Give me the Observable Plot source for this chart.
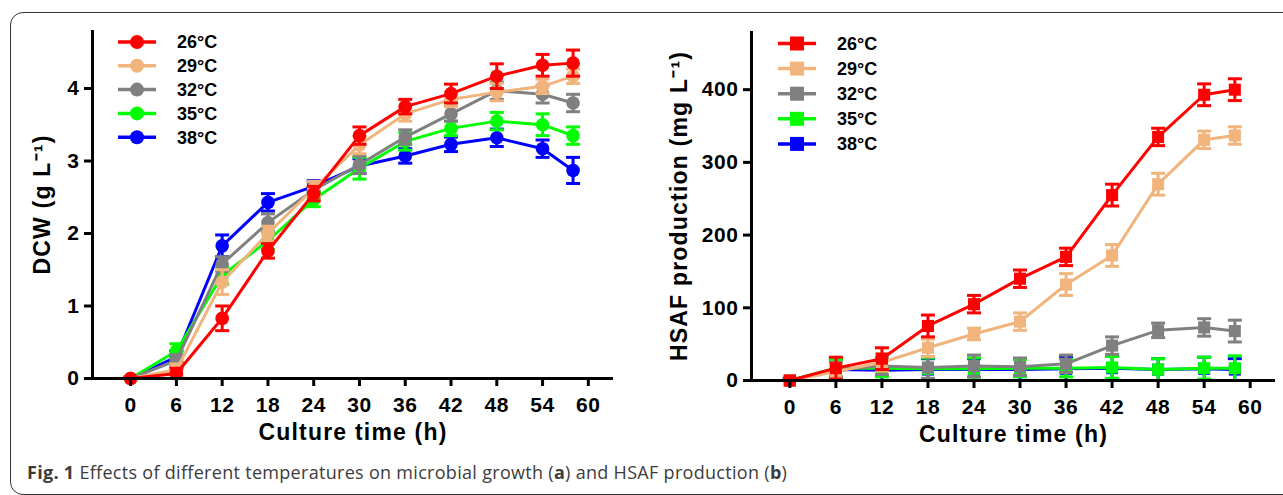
<!DOCTYPE html>
<html>
<head>
<meta charset="utf-8">
<script src="https://cdn.jsdelivr.net/npm/d3@7"></script>
<script src="https://cdn.jsdelivr.net/npm/@observablehq/plot@0.6"></script>
<style>
  html, body { margin: 0; padding: 0; background: #fff; }
  body { width: 1283px; height: 495px; position: relative; overflow: hidden; }
  #frame { position: absolute; left: 10px; top: 12px; width: 1320px; height: 483px;
           border: 1.6px solid #333; border-radius: 13px; box-sizing: border-box; }
  #left { position: absolute; left: 0; top: 0; }
  #right { position: absolute; left: 640px; top: 0; }
  #legend { position: absolute; left: 0; top: 0; pointer-events: none; }
  #caption { position: absolute; left: 27px; top: 463px; font-family: "Open Sans", sans-serif;
             font-size: 18px; letter-spacing: 0.3px; color: #3c3c3c; white-space: nowrap; line-height: 1; }
</style>
</head>
<body>
<div id="frame"></div>
<div id="left"></div>
<div id="right"></div>
<svg id="legend" width="1283" height="200"></svg>
<div id="caption"><b>Fig. 1</b> Effects of different temperatures on microbial growth (<b>a</b>) and HSAF production (<b>b</b>)</div>
<script>
// ---------- data ----------
const times = [0, 6, 12, 18, 24, 30, 36, 42, 48, 54, 58];
const xTicks = [0, 6, 12, 18, 24, 30, 36, 42, 48, 54, 60];
const temps = ["26°C", "29°C", "32°C", "35°C", "38°C"];
const colors = ["#FF0000", "#F0B47C", "#808080", "#00FF00", "#0000FF"];

// DCW (g L-1)
const dcw26 = [0, 0.07, 0.83, 1.76, 2.55, 3.35, 3.75, 3.93, 4.17, 4.32, 4.35];
const dcw29 = [0, 0.12, 1.33, 2.00, 2.62, 3.22, 3.65, 3.85, 3.95, 4.03, 4.17];
const dcw32 = [0, 0.25, 1.58, 2.15, 2.60, 2.95, 3.33, 3.65, 3.97, 3.92, 3.80];
const dcw35 = [0, 0.38, 1.42, 1.90, 2.47, 2.90, 3.27, 3.45, 3.55, 3.50, 3.35];
const dcw38 = [0, 0.30, 1.83, 2.43, 2.65, 2.93, 3.07, 3.23, 3.32, 3.17, 2.87];
const dcw26Err = [0.02, 0.07, 0.17, 0.10, 0.10, 0.12, 0.10, 0.13, 0.17, 0.15, 0.18];
const dcw29Err = [0.02, 0.08, 0.17, 0.10, 0.10, 0.12, 0.10, 0.10, 0.12, 0.10, 0.10];
const dcw32Err = [0.02, 0.08, 0.10, 0.12, 0.10, 0.12, 0.10, 0.10, 0.12, 0.12, 0.12];
const dcw35Err = [0.02, 0.10, 0.12, 0.12, 0.10, 0.15, 0.12, 0.10, 0.12, 0.15, 0.12];
const dcw38Err = [0.02, 0.08, 0.15, 0.12, 0.08, 0.10, 0.10, 0.10, 0.12, 0.12, 0.18];

// HSAF production (mg L-1)
const hsaf26 = [0, 17, 30, 75, 105, 140, 170, 255, 335, 393, 400];
const hsaf29 = [0, 12, 25, 45, 64, 81, 132, 172, 270, 331, 337];
const hsaf32 = [0, 15, 20, 18, 20, 19, 23, 48, 69, 73, 68];
const hsaf35 = [0, 17, 17, 16, 16, 17, 17, 18, 15, 17, 17];
const hsaf38 = [0, 15, 14, 15, 15, 15, 16, 17, 15, 16, 15];
const hsaf26Err = [3, 15, 15, 15, 12, 12, 12, 15, 12, 15, 15];
const hsaf29Err = [3, 10, 12, 12, 8, 12, 15, 15, 15, 12, 12];
const hsaf32Err = [3, 10, 12, 15, 15, 12, 12, 12, 10, 12, 15];
const hsaf35Err = [3, 12, 12, 15, 15, 12, 12, 15, 15, 15, 17];
const hsaf38Err = [3, 15, 14, 15, 15, 15, 16, 17, 15, 16, 15];

const dcwSeries = [dcw26, dcw29, dcw32, dcw35, dcw38];
const dcwErrs = [dcw26Err, dcw29Err, dcw32Err, dcw35Err, dcw38Err];
const hsafSeries = [hsaf26, hsaf29, hsaf32, hsaf35, hsaf38];
const hsafErrs = [hsaf26Err, hsaf29Err, hsaf32Err, hsaf35Err, hsaf38Err];

const xDomain = [-5, 63.3];
const FONT = "'Liberation Sans', Arial, Helvetica, sans-serif";

function capSymbol(half) {
  return { draw(context) { context.moveTo(-half, 0); context.lineTo(half, 0); } };
}

function panel({series, errs, yDomain, yTicks, yLabel, symbol, r, width, height, margin, yLabelDx}) {
  const rows = [];
  temps.forEach((name, i) => times.forEach((t, j) =>
    rows.push({series: name, t, v: series[i][j], e: errs[i][j]})));
  const marks = [];
  // draw last series first so 26°C ends on top
  for (let i = temps.length - 1; i >= 0; i--) {
    const d = rows.filter(r => r.series === temps[i]);
    marks.push(
      Plot.line(d, {x: "t", y: "v", stroke: "series", strokeWidth: 3}),
      Plot.ruleX(d, {x: "t", y1: r => Math.max(0, r.v - r.e), y2: r => r.v + r.e, stroke: "series", strokeWidth: 3}),
      Plot.dot(d, {x: "t", y: r => r.v + r.e, symbol: capSymbol(7), stroke: "series", strokeWidth: 3, fill: "none"}),
      Plot.dot(d, {x: "t", y: r => Math.max(0, r.v - r.e), symbol: capSymbol(7), stroke: "series", strokeWidth: 3, fill: "none"}),
      Plot.dot(d, {x: "t", y: "v", symbol, r, fill: "series", stroke: "none"})
    );
  }
  return Plot.plot({
    width, height,
    marginLeft: margin[0], marginRight: margin[1], marginTop: margin[2], marginBottom: margin[3],
    style: {fontFamily: FONT, background: "transparent", overflow: "visible", color: "#000"},
    x: {domain: xDomain},
    y: {domain: yDomain},
    color: {domain: temps, range: colors},
    marks: [
      ...marks,
      Plot.ruleY([yDomain[0]], {strokeWidth: 3, stroke: "#000"}),
      Plot.ruleX([xDomain[0]], {y1: yDomain[0], y2: yDomain[1], strokeWidth: 3, stroke: "#000"}),
      Plot.axisX({ticks: xTicks, tickFormat: d3.format("d"), tickSize: 8, tickPadding: 11, strokeWidth: 3,
                  fontSize: 21, fontWeight: "bold", label: null}),
      Plot.axisY({ticks: yTicks, tickFormat: d3.format("d"), tickSize: 8, tickPadding: 5, strokeWidth: 3,
                  fontSize: 21, fontWeight: "bold", label: null}),
      Plot.text(["Culture time (h)"], {frameAnchor: "bottom", textAnchor: "middle", dy: 61, fontSize: 23, fontWeight: "bold"}),
      Plot.text([yLabel], {frameAnchor: "left", textAnchor: "middle", dx: yLabelDx, rotate: -90, fontSize: 23, fontWeight: "bold"})
    ]
  });
}

const left = panel({
  series: dcwSeries, errs: dcwErrs, yDomain: [0, 4.8], yTicks: [0, 1, 2, 3, 4],
  yLabel: "DCW (g L⁻¹)", symbol: "circle", r: 6.8,
  width: 640, height: 460, margin: [92, 27, 30, 82], yLabelDx: -50
});
const right = panel({
  series: hsafSeries, errs: hsafErrs, yDomain: [0, 480], yTicks: [0, 100, 200, 300, 400],
  yLabel: "HSAF production (mg L⁻¹)", symbol: "square", r: 6.8,
  width: 643, height: 460, margin: [111, 8, 31, 80], yLabelDx: -72
});
document.getElementById("left").appendChild(left);
document.getElementById("right").appendChild(right);
for (const svg of [left, right]) {
  d3.select(svg).selectAll('g[aria-label="text"] text').attr("letter-spacing", "1.2px");
  d3.select(svg).selectAll('g[aria-label="x-axis tick label"] text, g[aria-label="y-axis tick label"] text')
    .attr("letter-spacing", "0.6px");
}

// ---------- legends ----------
const leg = d3.select("#legend");
function legend({x0, x1, mx, tx, y0, step, shape}) {
  temps.forEach((name, i) => {
    const y = y0 + i * step;
    const g = leg.append("g");
    g.append("line").attr("x1", x0).attr("x2", x1).attr("y1", y).attr("y2", y)
      .attr("stroke", colors[i]).attr("stroke-width", 3.5);
    if (shape === "circle") {
      g.append("circle").attr("cx", mx).attr("cy", y).attr("r", 7).attr("fill", colors[i]);
    } else {
      g.append("rect").attr("x", mx - 7).attr("y", y - 7).attr("width", 14).attr("height", 14).attr("fill", colors[i]);
    }
    g.append("text").attr("x", tx).attr("y", y).attr("dy", "0.36em")
      .attr("font-family", FONT).attr("font-weight", "bold").attr("font-size", 18)
      .attr("fill", "#000").text(name);
  });
}
legend({x0: 118, x1: 156, mx: 137, tx: 177, y0: 42, step: 23.8, shape: "circle"});
legend({x0: 778, x1: 816, mx: 797, tx: 837, y0: 43.5, step: 25.1, shape: "square"});
</script>
</body>
</html>
